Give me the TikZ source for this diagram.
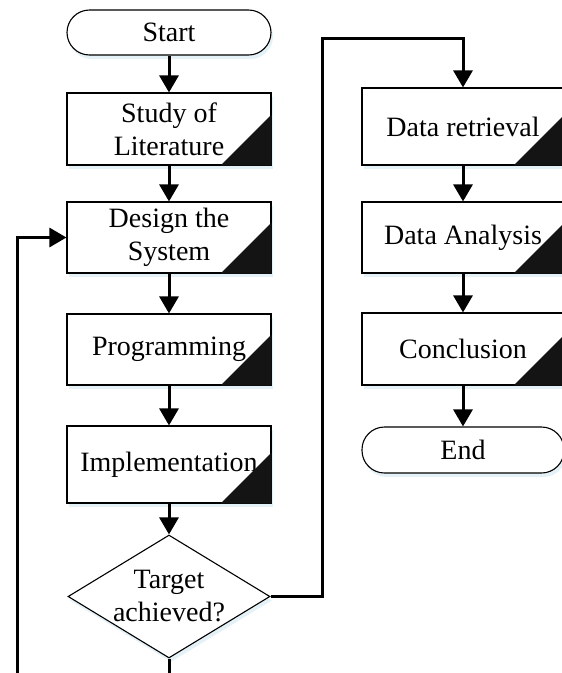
\documentclass[tikz,border=0pt]{standalone}
\usepackage{fontspec}
\setmainfont{Liberation Serif}
\usetikzlibrary{arrows.meta,shapes.geometric,shadows}
\begin{document}
\begin{tikzpicture}[x=1pt,y=-1pt,
  shad/.style={drop shadow={shadow xshift=2pt,shadow yshift=-4pt,fill=black!25!cyan!25,opacity=0.45}},
  procbox/.style={draw=black,line width=1.1pt,fill=white,rectangle,inner sep=0pt,
    minimum width=204pt,align=center,font=\fontsize{28}{33}\selectfont,shad},
  termbox/.style={draw=black,line width=1.1pt,fill=white,rounded corners=22.5pt,inner sep=0pt,
    minimum width=204pt,minimum height=45pt,font=\fontsize{28}{33}\selectfont,shad},
  decbox/.style={draw=black,line width=1.1pt,fill=white,diamond,aspect=1.64,inner sep=0pt,
    minimum width=202pt,minimum height=123pt,
    align=center,font=\fontsize{28}{33}\selectfont,shad},
  conn/.style={line width=3pt,-{Triangle[length=17pt,width=19pt]}},
  corner/.style={fill=black!92}
]
\useasboundingbox (0,0) rectangle (562,673);
\clip (0,0) rectangle (562,673);

% left column
\node[termbox] (start) at (169,32.5) {Start};
\node[procbox,minimum height=72pt] (study) at (169,129) {Study of\\Literature};
\node[procbox,minimum height=71pt] (design) at (169,237.5) {Design the\\System};
\node[procbox,minimum height=71pt] (prog) at (169,349.5) {Programming};
\node[procbox,minimum height=77pt] (impl) at (169,464.5) {Implementation};
\node[decbox] (target) at (169,596.5) {Target\\achieved?};

% right column
\node[procbox,minimum width=202pt,minimum height=77pt] (dr) at (463,126.5) {Data retrieval};
\node[procbox,minimum width=202pt,minimum height=71pt] (da) at (463,237.5) {Data Analysis};
\node[procbox,minimum width=202pt,minimum height=72pt] (concl) at (463,349) {Conclusion};
\node[termbox,minimum width=202pt,minimum height=46pt] (end) at (463,450) {End};

% black corner triangles
\foreach \n in {study,design,prog,impl,dr,da,concl}{
  \fill[corner] (\n.south east) -- ++(-51,0) -- ++(51,-51) -- cycle;
}

% connectors
\draw[conn] (start) -- (study);
\draw[conn] (study) -- (design);
\draw[conn] (design) -- (prog);
\draw[conn] (prog) -- (impl);
\draw[conn] (impl) -- (target);
\draw[conn] (dr) -- (da);
\draw[conn] (da) -- (concl);
\draw[conn] (concl) -- (end);

\coordinate (tr) at (322,38);
\draw[conn] (target.east) -| (tr) -| (dr.north);

\coordinate (lb) at (17,700);
\draw[conn] (target.south) |- (lb) |- (design.west);
\end{tikzpicture}
\end{document}
